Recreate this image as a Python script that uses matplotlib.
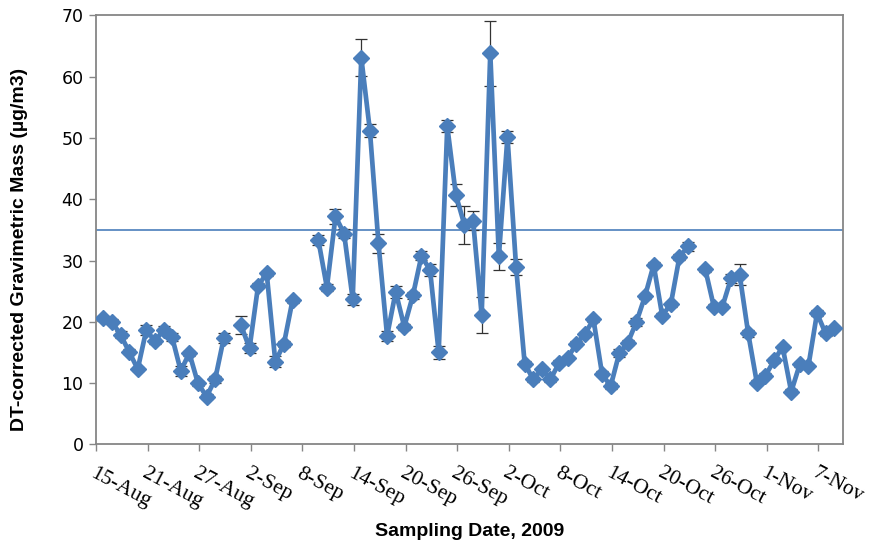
import numpy as np
import pandas as pd
import matplotlib
matplotlib.use("Agg")
from matplotlib import pyplot as plt

nan = np.nan

# daily samples starting 15-Aug-2009 (nan = no sample)
start_date = "2009-08-15"
mass = [20.6, 20.0, 17.9, 15.1, 12.3, 18.7, 16.8, 18.7, 17.5, 12.0,
        14.9, 10.0, 7.8, 10.6, 17.3, nan, 19.5, 15.7, 25.9, 27.9,
        13.5, 16.4, 23.5, nan, nan, 33.4, 25.6, 37.2, 34.4, 23.7,
        63.1, 51.2, 32.8, 17.7, 24.9, 19.2, 24.3, 30.8, 28.4, 15.0,
        51.9, 40.7, 35.8, 36.5, 21.1, 63.8, 30.7, 50.2, 29.0, 13.2,
        10.6, 12.3, 10.6, 13.3, 14.1, 16.4, 18.0, 20.4, 11.5, 9.5,
        14.9, 16.6, 20.0, 24.2, 29.3, 21.0, 22.9, 30.6, 32.3, nan,
        28.6, 22.5, 22.5, 27.1, 27.7, 18.1, 10.1, 11.2, 13.7, 15.9,
        8.6, 13.1, 12.8, 21.4, 18.1, 19.0]
mass_err = [0.4, 0.4, 0.6, 0.4, 0.3, 0.8, 0.4, 0.6, 0.6, 0.8,
            0.4, 0.4, 0.4, 0.5, 0.8, nan, 1.5, 0.8, 0.4, 0.4,
            0.9, 0.5, 0.4, nan, nan, 0.8, 0.5, 1.2, 0.7, 0.9,
            3.0, 1.1, 1.5, 0.8, 1.0, 0.5, 0.5, 0.7, 1.0, 1.0,
            1.0, 1.8, 3.1, 1.5, 3.0, 5.3, 2.2, 1.0, 1.3, 0.4,
            0.4, 0.4, 0.4, 0.4, 0.4, 0.4, 0.4, 0.4, 0.4, 0.5,
            0.7, 0.4, 0.7, 0.4, 0.4, 0.4, 0.4, 0.5, 0.7, nan,
            0.4, 0.4, 0.4, 0.7, 1.7, 0.6, 0.4, 0.4, 0.4, 0.4,
            0.4, 0.4, 0.4, 0.5, 0.4, 0.4]
standard = 35  # 24-h PM2.5 standard line
tick_step = 6

dates = pd.date_range(start_date, periods=len(mass), freq="D")
day = np.arange(len(mass))
x = day + 0.85

blue = "#4a7ebb"
grey = "#868686"

fig = plt.figure(figsize=(8.77, 5.48), dpi=100)
ax = fig.add_axes([0.1095, 0.189, 0.852, 0.783])

ax.errorbar(x, mass, yerr=mass_err, fmt="none", ecolor="#333333",
            elinewidth=0.9, capsize=4, capthick=0.9, zorder=2)
ax.plot(x, mass, color=blue, lw=3.4, marker="D", ms=8.5, mfc=blue, mec=blue,
        zorder=3)
ax.axhline(standard, color=blue, lw=1.2, zorder=1)

ax.set_ylim(0, 70)
ax.set_xlim(0, 86.9)
ax.set_yticks(np.arange(0, 71, 10))

tick_days = np.arange(0, 85, tick_step)
tick_labels = [f"{dates[i].day}-{dates[i].strftime('%b')}" for i in tick_days]
ax.set_xticks(tick_days)
ax.set_xticklabels(tick_labels, rotation=-28, ha="left", va="top",
                   rotation_mode="anchor", family="Liberation Serif",
                   fontsize=15.5)

for lbl in ax.get_yticklabels():
    lbl.set_family("DejaVu Sans")
    lbl.set_fontsize(12.5)

for s in ax.spines.values():
    s.set_color(grey)
    s.set_linewidth(1.3)
ax.tick_params(axis="both", direction="out", length=5, width=1, color=grey)
ax.tick_params(axis="x", pad=9)
ax.tick_params(axis="y", pad=4)

ax.set_ylabel("DT-corrected Gravimetric Mass (\u00b5g/m3)", family="Liberation Sans",
              fontsize=14, fontweight="bold")
ax.yaxis.set_label_coords(-0.091, 0.455)
ax.set_xlabel("Sampling Date, 2009", family="Liberation Sans",
              fontsize=14, fontweight="bold")
ax.xaxis.set_label_coords(0.5, -0.182)

fig.savefig("out.png", dpi=100)
